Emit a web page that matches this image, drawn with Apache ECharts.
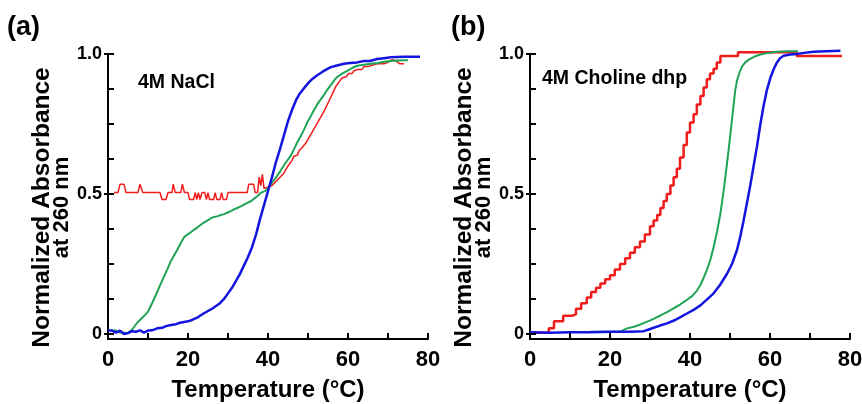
<!DOCTYPE html>
<html><head><meta charset="utf-8">
<script src="https://cdn.jsdelivr.net/npm/echarts@6/dist/echarts.min.js"></script>
<style>html,body{margin:0;padding:0;background:#fff}#c{width:862px;height:404px}</style>
</head><body><div id="c"></div>
<script>
// ---- data (Temperature °C, normalized absorbance) ----
const xTickLabels = [0, 20, 40, 60, 80];
const xTickValues = [0, 10, 20, 30, 40, 50, 60, 70, 80];
const yLabelValues = [0, 0.5, 1.0];
const yTickValues = [0, 0.125, 0.25, 0.375, 0.5, 0.625, 0.75, 0.875, 1.0];
const panelLabels = ['(a)', '(b)'];
const panelTitles = ['4M NaCl', '4M Choline dhp'];

const redA = [[1.5,0.505],[2.5,0.505],[3,0.535],[4,0.535],[4.5,0.505],[7.5,0.505],[8,0.535],[8.7,0.505],[13,0.505],[13.5,0.48],[14.5,0.48],[15,0.505],[16,0.505],[16.3,0.535],[16.8,0.505],[18.2,0.505],[18.6,0.535],[19.1,0.505],[20,0.505],[20.4,0.48],[21.4,0.48],[21.8,0.505],[22.2,0.48],[22.6,0.505],[23,0.48],[23.5,0.505],[24.2,0.505],[24.6,0.48],[25,0.505],[25.4,0.48],[26.4,0.48],[26.8,0.505],[27.2,0.48],[28,0.48],[28.4,0.505],[28.8,0.48],[29.6,0.48],[30,0.505],[34.8,0.505],[35.2,0.535],[36.4,0.535],[36.8,0.505],[37.4,0.505],[37.8,0.56],[38.2,0.53],[38.6,0.57],[39,0.52],[40,0.525],[41,0.53],[42,0.545],[43,0.56],[44,0.575],[45,0.6],[46,0.62],[46.5,0.635],[47.3,0.638],[47.8,0.655],[48.5,0.665],[49,0.672],[49.6,0.685],[50.2,0.7],[51,0.72],[52,0.745],[53,0.77],[54,0.795],[55,0.825],[56,0.855],[57,0.885],[58,0.905],[58.6,0.915],[59.5,0.918],[60.2,0.93],[61,0.93],[61.5,0.94],[62.5,0.945],[63.5,0.945],[64,0.955],[65,0.955],[66,0.96],[67.3,0.965],[69,0.965],[70,0.97],[71,0.98],[72,0.975],[73,0.965],[74,0.965]];

const greenA = [[0,0.012],[2,0.012],[3,0.005],[5,0.003],[6,0.015],[7.3,0.04],[8,0.05],[9,0.064],[10,0.08],[10.7,0.1],[11.5,0.125],[12.3,0.15],[13.2,0.18],[14,0.205],[14.8,0.23],[15.7,0.26],[16.5,0.28],[17.3,0.3],[18.2,0.325],[19,0.345],[19.8,0.355],[20.7,0.363],[21.5,0.372],[22.3,0.38],[23.2,0.39],[24,0.398],[24.8,0.405],[25.7,0.413],[26.5,0.418],[27.3,0.42],[28.2,0.425],[29,0.428],[29.8,0.433],[30.7,0.439],[31.5,0.445],[32.3,0.45],[33.2,0.456],[34,0.462],[34.8,0.468],[35.7,0.474],[36.5,0.483],[37.3,0.492],[38.3,0.505],[39.2,0.51],[40,0.52],[40.7,0.535],[41.5,0.55],[42.3,0.565],[43,0.58],[43.8,0.598],[44.6,0.615],[45.7,0.637],[46.5,0.66],[47.3,0.684],[48.2,0.707],[49,0.73],[49.8,0.755],[50.7,0.778],[51.5,0.8],[52.3,0.82],[53.2,0.838],[54,0.854],[54.8,0.872],[55.7,0.889],[56.5,0.905],[57.3,0.918],[58.5,0.93],[59.8,0.94],[61,0.95],[62.3,0.958],[64,0.962],[65.7,0.965],[67.5,0.968],[69,0.972],[70.7,0.975],[72.3,0.977],[74,0.978],[75,0.978]];

const blueA = [[0,0.012],[1,0.012],[2,0.005],[3,0.012],[4,0.0],[5,0.003],[6,0.01],[7,0.008],[8,0.013],[9,0.005],[10,0.012],[11,0.013],[12.3,0.02],[13.5,0.022],[14.5,0.028],[15.7,0.032],[17,0.035],[18,0.04],[19,0.043],[20,0.045],[21,0.05],[22.3,0.058],[23,0.065],[24,0.074],[25,0.082],[26,0.09],[27,0.1],[28,0.11],[29,0.125],[30,0.145],[31,0.165],[32,0.19],[33,0.215],[34,0.245],[35,0.275],[36,0.31],[37,0.355],[38,0.41],[39,0.46],[40,0.51],[41,0.56],[42,0.615],[43,0.66],[44,0.71],[45,0.76],[46,0.8],[47,0.835],[48,0.86],[49,0.878],[50,0.895],[50.7,0.906],[51.5,0.915],[52.3,0.924],[53.2,0.932],[54,0.94],[55,0.948],[55.7,0.953],[57,0.958],[59,0.965],[60.5,0.968],[62.3,0.97],[64,0.975],[65.5,0.975],[67.3,0.982],[69,0.985],[70.7,0.988],[74,0.99],[78,0.99]];

const redB = [[0,0.004],[4.7,0.02],[6.0,0.045],[8.3,0.065],[10.5,0.07],[11.5,0.09],[12.8,0.11],[14.2,0.13],[15.3,0.15],[16.5,0.165],[17.6,0.18],[18.8,0.195],[20.0,0.21],[21.2,0.23],[22.5,0.25],[23.8,0.27],[25.0,0.29],[26.2,0.31],[27.5,0.33],[28.7,0.355],[30.0,0.385],[30.9,0.405],[31.8,0.425],[32.6,0.45],[33.4,0.475],[34.2,0.5],[35.1,0.53],[35.9,0.56],[36.7,0.59],[37.5,0.63],[38.4,0.675],[39.2,0.72],[40.0,0.755],[40.9,0.785],[41.7,0.82],[42.6,0.85],[43.4,0.88],[44.2,0.91],[45.0,0.93],[45.9,0.947],[46.7,0.97],[47.6,0.993],[52.0,1.006],[66.7,0.993],[78,0.993]];

const greenB = [[15.1,0.008],[20,0.008],[22.6,0.008],[24.25,0.02],[26,0.026],[27.6,0.034],[29.3,0.044],[30.9,0.054],[32.6,0.066],[34.25,0.078],[36,0.092],[37.6,0.106],[39.25,0.122],[40.5,0.135],[41.75,0.155],[42.6,0.175],[43.4,0.2],[44.25,0.23],[45.1,0.265],[45.9,0.31],[46.75,0.365],[47.6,0.43],[48.4,0.51],[49,0.58],[49.7,0.663],[50.3,0.74],[50.9,0.817],[51.3,0.87],[51.75,0.905],[52.4,0.935],[53,0.955],[53.8,0.97],[54.7,0.98],[56,0.99],[57.6,0.998],[59.5,1.004],[61.75,1.008],[64,1.01],[67,1.01]];

const blueB = [[0,0.006],[5,0.004],[10,0.006],[15,0.006],[20,0.008],[25,0.008],[28.4,0.01],[29.5,0.015],[30.9,0.022],[32.5,0.03],[34.25,0.038],[36,0.048],[37.6,0.06],[39.25,0.073],[41,0.087],[42.6,0.102],[44,0.12],[45.9,0.145],[47.5,0.175],[49.25,0.215],[50.5,0.25],[51.75,0.3],[52.6,0.35],[53.4,0.405],[54.2,0.465],[55.1,0.533],[55.9,0.6],[56.75,0.67],[57.6,0.75],[58.4,0.815],[59.2,0.87],[60.1,0.915],[61,0.948],[61.75,0.97],[62.5,0.985],[63.4,0.994],[65,0.998],[66.75,1.0],[68.5,1.004],[70.9,1.008],[74,1.01],[77.6,1.012]];

// ---- chart ----
const FF = '"Liberation Sans", Arial, sans-serif';
const RED = '#f01c1c', GREEN = '#1fa356', BLUE = '#1414e0';
const Y_MIN = -0.018;
const chart = echarts.init(document.getElementById('c'), null, {renderer: 'canvas'});

function xAxis(gi) {
  return {
    type: 'value', gridIndex: gi, min: 0, max: 80, interval: 10,
    axisLine: {show: true, onZero: false, lineStyle: {color: '#000', width: 2}},
    axisTick: {show: true, inside: true, length: 6, lineStyle: {color: '#000', width: 2}},
    axisLabel: {formatter: v => xTickLabels.indexOf(v) >= 0 ? String(v) : '', fontSize: 22, fontWeight: 'bold', color: '#000', margin: 10, fontFamily: FF},
    splitLine: {show: false},
    name: 'Temperature (°C)', nameLocation: 'middle', nameGap: 39,
    nameTextStyle: {fontSize: 24, fontWeight: 'bold', color: '#000', fontFamily: FF}
  };
}
function yAxis(gi) {
  return {
    type: 'value', gridIndex: gi, min: Y_MIN, max: 1.0,
    axisLine: {show: true, onZero: false, lineStyle: {color: '#000', width: 2}},
    axisTick: {show: true, inside: true, length: 6, customValues: yTickValues, lineStyle: {color: '#000', width: 2}},
    axisLabel: {show: true, customValues: yLabelValues, formatter: v => v === 0 ? '0' : Number(v).toFixed(1), fontSize: 18, fontWeight: 'bold', color: '#000', margin: 6, fontFamily: FF},
    splitLine: {show: false},
    name: '{a|Normalized Absorbance}\n{b|at 260 nm}', nameLocation: 'middle', nameRotate: 90, nameGap: 32,
    nameTextStyle: {color: '#000', fontFamily: FF, fontWeight: 'bold', padding: [0, 22, 0, 0],
      rich: {a: {fontSize: 24.5, fontWeight: 'bold', fontFamily: FF, color: '#000', lineHeight: 20},
             b: {fontSize: 22, fontWeight: 'bold', fontFamily: FF, color: '#000', lineHeight: 20}}}
  };
}
function line(data, color, width, gi, step) {
  const s = {type: 'line', data: data, xAxisIndex: gi, yAxisIndex: gi, showSymbol: false,
    clip: false, lineStyle: {color: color, width: width}, itemStyle: {color: color}};
  if (step) s.step = step;
  return s;
}
// tick marks drawn through the axes' own scales (api.coord)
function xTicks(gi) {
  return {type: 'custom', xAxisIndex: gi, yAxisIndex: gi, silent: true, clip: false, z: 10,
    data: xTickValues.map(v => [v, Y_MIN]),
    renderItem: (params, api) => {
      const p = api.coord([api.value(0), api.value(1)]);
      return {type: 'line', shape: {x1: p[0], y1: p[1], x2: p[0], y2: p[1] - 6}, style: {stroke: '#000', lineWidth: 2}};
    }};
}
function yTicks(gi) {
  return {type: 'custom', xAxisIndex: gi, yAxisIndex: gi, silent: true, clip: false, z: 10,
    data: yTickValues.map(v => [0, v]),
    renderItem: (params, api) => {
      const v = api.value(1);
      const p = api.coord([api.value(0), v]);
      const out = yLabelValues.indexOf(v) >= 0 ? 4 : 0;
      return {type: 'line', shape: {x1: p[0] - out, y1: p[1], x2: p[0] + 6, y2: p[1]}, style: {stroke: '#000', lineWidth: 2}};
    }};
}

chart.setOption({
  animation: false,
  backgroundColor: '#fff',
  grid: [
    {left: 108, right: 862 - 428, top: 54, bottom: 65, outerBoundsMode: 'none', containLabel: false},
    {left: 530, right: 862 - 850, top: 54, bottom: 65, outerBoundsMode: 'none', containLabel: false}
  ],
  xAxis: [xAxis(0), xAxis(1)],
  yAxis: [yAxis(0), yAxis(1)],
  graphic: [
    {type: 'text', left: 7, top: 14, style: {text: panelLabels[0], font: 'bold 27px ' + FF, fill: '#000'}},
    {type: 'text', left: 451, top: 14, style: {text: panelLabels[1], font: 'bold 27px ' + FF, fill: '#000'}},
    {type: 'text', left: 138, top: 73, style: {text: panelTitles[0], font: 'bold 19.5px ' + FF, fill: '#000'}},
    {type: 'text', left: 542, top: 69, style: {text: panelTitles[1], font: 'bold 19.5px ' + FF, fill: '#000'}}
  ],
  series: [
    line(redA, RED, 1.5, 0),
    line(greenA, GREEN, 2, 0),
    line(blueA, BLUE, 2.5, 0),
    line(redB, RED, 2.5, 1, 'end'),
    line(greenB, GREEN, 2, 1),
    line(blueB, BLUE, 2.5, 1),
    xTicks(0), yTicks(0), xTicks(1), yTicks(1)
  ]
});
</script></body></html>
